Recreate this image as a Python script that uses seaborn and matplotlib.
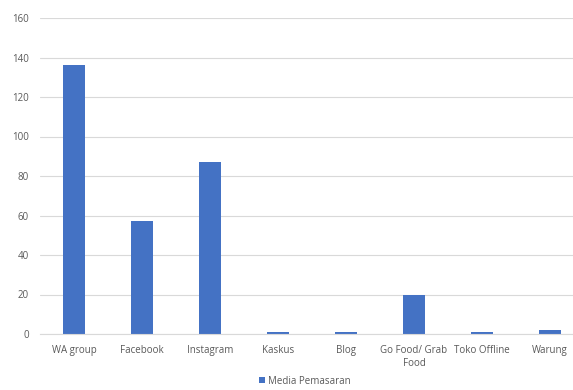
import matplotlib
matplotlib.use("Agg")
import matplotlib.pyplot as plt
import seaborn as sns
import pandas as pd

categories = ["WA group", "Facebook", "Instagram", "Kaskus", "Blog", "Go Food/ Grab\nFood", "Toko Offline", "Warung"]
values = [136, 57, 87, 1, 1, 20, 1, 2]
series_name = "Media Pemasaran"
yticks = [0, 20, 40, 60, 80, 100, 120, 140, 160]

df = pd.DataFrame({"cat": categories, "val": values, "series": series_name})

sns.set_theme(style="white")
plt.rcParams["font.family"] = ["Open Sans", "DejaVu Sans"]

fig = plt.figure(figsize=(5.73, 3.9), dpi=100)
ax = fig.add_axes([40/573, 56/390, 544/573, 316/390])
sns.barplot(data=df, x="cat", y="val", hue="series", palette=["#4472C4"], width=0.31,
            ax=ax, saturation=1, legend=True, linewidth=0)
ax.set_ylim(0, 160)
ax.set_xlim(-0.5, 7.5)
ax.set_yticks(yticks)
ax.yaxis.grid(True, color="#d9d9d9", linewidth=0.8)
ax.set_axisbelow(True)
for s in ["top", "right", "left"]:
    ax.spines[s].set_visible(False)
ax.spines["bottom"].set_color("#d9d9d9")
ax.spines["bottom"].set_linewidth(0.8)
ax.tick_params(axis="both", length=0, colors="#595959", labelsize=7)
ax.tick_params(axis="x", pad=8)
ax.tick_params(axis="y", pad=8)
ax.set_xlabel("")
ax.set_ylabel("")
ax.legend(loc="center", bbox_to_anchor=(305/573, 1 - 381/390), bbox_transform=fig.transFigure,
          frameon=False, fontsize=7, handlelength=0.6, handleheight=0.6, handletextpad=0.3,
          labelcolor="#595959")
fig.savefig("out.png", dpi=100)
